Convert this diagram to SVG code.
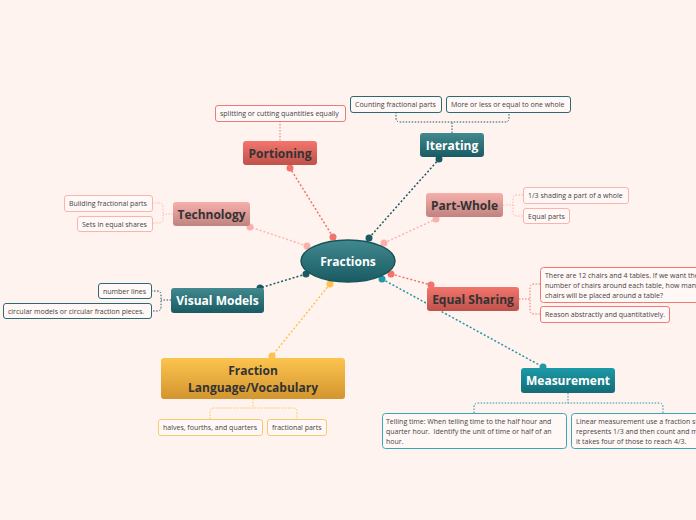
<svg xmlns="http://www.w3.org/2000/svg" width="696" height="520" viewBox="0 0 696 520">
<defs>
<linearGradient id="gTeal" x1="0" y1="0" x2="0" y2="1"><stop offset="0" stop-color="#42898f"/><stop offset="1" stop-color="#195b63"/></linearGradient>
<linearGradient id="gMeas" x1="0" y1="0" x2="0" y2="1"><stop offset="0" stop-color="#1c9aa7"/><stop offset="1" stop-color="#136b76"/></linearGradient>
<linearGradient id="gRed" x1="0" y1="0" x2="0" y2="1"><stop offset="0" stop-color="#f2766d"/><stop offset="1" stop-color="#bf514b"/></linearGradient>
<linearGradient id="gPink" x1="0" y1="0" x2="0" y2="1"><stop offset="0" stop-color="#f7b0ab"/><stop offset="1" stop-color="#c08380"/></linearGradient>
<linearGradient id="gGold" x1="0" y1="0" x2="0" y2="1"><stop offset="0" stop-color="#fcc44f"/><stop offset="1" stop-color="#d3952e"/></linearGradient>
<style>
text{font-family:"Open Sans","Noto Sans","DejaVu Sans",sans-serif}
.t{font-size:12px;font-weight:bold;text-anchor:middle}
.tw{fill:#ffffff}
.td{fill:#333333}
.c{font-size:7px;fill:#444444}
.cb{fill:#fff8f6;stroke-width:1}
.con{fill:none;stroke-width:1.5;stroke-dasharray:2 2}
.br{fill:none;stroke-width:1;stroke-dasharray:1.5 1.5}
.red{stroke:#f2736b}
.pink{stroke:#fbb5ae}
.teal{stroke:#1b5a63}
.meas{stroke:#2298a6}
.gold{stroke:#fcc24d}
.bred{stroke:#f07a72}
.bpink{stroke:#fbb3ae}
.bteal{stroke:#2a6a72}
.bmeas{stroke:#3aa6b1}
.bgold{stroke:#f8ca6a}
</style>
</defs>
<rect width="696" height="520" fill="#fff3f0"/>
<g id="connectors">
<line class="con red" x1="333" y1="237" x2="290" y2="168"/>
<circle cx="333" cy="237" r="3.5" fill="#f2736b"/><circle cx="290" cy="168" r="3.5" fill="#f2736b"/>
<line class="con teal" x1="369" y1="238" x2="439" y2="159"/>
<circle cx="369" cy="238" r="3.5" fill="#1b5a63"/><circle cx="439" cy="159" r="3.5" fill="#1b5a63"/>
<line class="con pink" x1="307" y1="246" x2="250" y2="227"/>
<circle cx="307" cy="246" r="3.5" fill="#fbb0ab"/><circle cx="250" cy="227" r="3.5" fill="#fbb0ab"/>
<line class="con pink" x1="384" y1="243" x2="436" y2="219"/>
<circle cx="384" cy="243" r="3.5" fill="#fbb0ab"/><circle cx="436" cy="219" r="3.5" fill="#fbb0ab"/>
<line class="con red" x1="391" y1="274" x2="431" y2="285"/>
<circle cx="391" cy="274" r="3.5" fill="#f2736b"/><circle cx="431" cy="285" r="3.5" fill="#f2736b"/>
<line class="con meas" x1="382" y1="279" x2="543" y2="367"/>
<circle cx="382" cy="279" r="3.5" fill="#2298a6"/><circle cx="543" cy="367" r="3.5" fill="#2298a6"/>
<line class="con teal" x1="306" y1="274" x2="260" y2="288"/>
<circle cx="306" cy="274" r="3.5" fill="#1b5a63"/><circle cx="260" cy="288" r="3.5" fill="#1b5a63"/>
<line class="con gold" x1="330" y1="284" x2="272" y2="356"/>
<circle cx="330" cy="284" r="3.5" fill="#fcc24d"/><circle cx="272" cy="356" r="3.5" fill="#fcc24d"/>
<line class="br red" x1="280" y1="121" x2="280" y2="141"/>
<path class="br teal" d="M452 133V122M396 112V118Q396 122 400 122H505Q509 122 509 118V112"/>
<path class="br pink" d="M173 214H163M152 203H159Q163 203 163 207V219Q163 223 159 223H152"/>
<path class="br teal" d="M171 300H161M151 291H157Q161 291 161 295V307Q161 311 157 311H151"/>
<path class="br pink" d="M503 205H513M523 195H517Q513 195 513 199V212Q513 216 517 216H523"/>
<path class="br red" d="M519 299H530M540 284H534Q530 284 530 288V310Q530 314 534 314H540"/>
<path class="br meas" d="M568 393V403M474 413V407Q474 403 478 403H659Q663 403 663 407V413"/>
<path class="br gold" d="M253 399V408M210 419V412Q210 408 214 408H293Q297 408 297 412V419"/>
</g>
<g id="n-center">
<ellipse cx="348" cy="261" rx="47" ry="21" fill="url(#gTeal)" stroke="#17555b" stroke-width="1.5"/>
<text class="t tw" x="348" y="265.5">Fractions</text>
</g>
<g id="n-portioning">
<rect x="243" y="141" width="74" height="24" rx="3" fill="url(#gRed)"/>
<text class="t td" x="280" y="157.5">Portioning</text>
</g>
<g id="c-portioning-1">
<rect class="cb bred" x="215.5" y="105.5" width="130" height="16" rx="2.5"/>
<text class="c" x="220" y="116">splitting or cutting quantities equally</text>
</g>
<g id="n-iterating">
<rect x="420" y="133" width="64" height="24" rx="3" fill="url(#gTeal)"/>
<text class="t tw" x="452" y="149.5">Iterating</text>
</g>
<g id="c-iterating-1">
<rect class="cb bteal" x="350.5" y="96.5" width="91" height="16" rx="2.5"/>
<text class="c" x="355" y="107">Counting fractional parts</text>
</g>
<g id="c-iterating-2">
<rect class="cb bteal" x="446.5" y="96.5" width="124" height="16" rx="2.5"/>
<text class="c" x="451" y="107">More or less or equal to one whole</text>
</g>
<g id="n-technology">
<rect x="173" y="202" width="77" height="24" rx="3" fill="url(#gPink)"/>
<text class="t td" x="211.5" y="218.5">Technology</text>
</g>
<g id="c-tech-1">
<rect class="cb bpink" x="64.5" y="195.5" width="88" height="16" rx="2.5"/>
<text class="c" x="69" y="206">Building fractional parts</text>
</g>
<g id="c-tech-2">
<rect class="cb bpink" x="77.5" y="216.5" width="75" height="15" rx="2.5"/>
<text class="c" x="82" y="226.5">Sets in equal shares</text>
</g>
<g id="n-visual">
<rect x="171" y="288" width="93" height="25" rx="3" fill="url(#gTeal)"/>
<text class="t tw" x="217.5" y="305">Visual Models</text>
</g>
<g id="c-visual-1">
<rect class="cb bteal" x="98.5" y="283.5" width="53" height="15" rx="2.5"/>
<text class="c" x="103" y="293.5">number lines</text>
</g>
<g id="c-visual-2">
<rect class="cb bteal" x="3.5" y="303.5" width="148" height="15" rx="2.5"/>
<text class="c" x="8" y="313.5">circular models or circular fraction pieces.</text>
</g>
<g id="n-partwhole">
<rect x="426" y="193" width="77" height="24" rx="3" fill="url(#gPink)"/>
<text class="t td" x="464.5" y="209.5">Part-Whole</text>
</g>
<g id="c-pw-1">
<rect class="cb bpink" x="523.5" y="187.5" width="105" height="16" rx="2.5"/>
<text class="c" x="528" y="198">1/3 shading a part of a whole</text>
</g>
<g id="c-pw-2">
<rect class="cb bpink" x="523.5" y="208.5" width="46" height="15" rx="2.5"/>
<text class="c" x="528" y="218.5">Equal parts</text>
</g>
<g id="n-equal">
<rect x="427" y="287" width="92" height="24" rx="3" fill="url(#gRed)"/>
<text class="t td" x="473" y="303.5">Equal Sharing</text>
</g>
<g id="c-equal-1">
<rect class="cb bred" x="540.5" y="267.5" width="170" height="35" rx="3"/>
<text class="c" x="545" y="277.5">There are 12 chairs and 4 tables. If we want the same</text>
<text class="c" x="545" y="287.5">number of chairs around each table, how many</text>
<text class="c" x="545" y="297.5">chairs will be placed around a table?</text>
</g>
<g id="c-equal-2">
<rect class="cb bred" x="540.5" y="306.5" width="129" height="16" rx="2.5"/>
<text class="c" x="545" y="317">Reason abstractly and quantitatively.</text>
</g>
<g id="n-measurement">
<rect x="521" y="368" width="94" height="25" rx="3" fill="url(#gMeas)"/>
<text class="t tw" x="568" y="385">Measurement</text>
</g>
<g id="c-meas-1">
<rect class="cb bmeas" x="382.5" y="413.5" width="184" height="35" rx="3"/>
<text class="c" x="386" y="424">Telling time: When telling time to the half hour and</text>
<text class="c" x="386" y="434">quarter hour.&#160; Identify the unit of time or half of an</text>
<text class="c" x="386" y="444">hour.</text>
</g>
<g id="c-meas-2">
<rect class="cb bmeas" x="571.5" y="413.5" width="150" height="35" rx="3"/>
<text class="c" x="576" y="424">Linear measurement use a fraction strip that</text>
<text class="c" x="576" y="434">represents 1/3 and then count and make</text>
<text class="c" x="576" y="444">it takes four of those to reach 4/3.</text>
</g>
<g id="n-fraclang">
<rect x="161" y="358" width="184" height="41" rx="3" fill="url(#gGold)"/>
<text class="t td" x="253" y="374.5">Fraction</text>
<text class="t td" x="253" y="391.5">Language/Vocabulary</text>
</g>
<g id="c-fl-1">
<rect class="cb bgold" x="158.5" y="419.5" width="104" height="16" rx="2.5"/>
<text class="c" x="163" y="430">halves, fourths, and quarters</text>
</g>
<g id="c-fl-2">
<rect class="cb bgold" x="267.5" y="419.5" width="59" height="16" rx="2.5"/>
<text class="c" x="272" y="430">fractional parts</text>
</g>
</svg>
